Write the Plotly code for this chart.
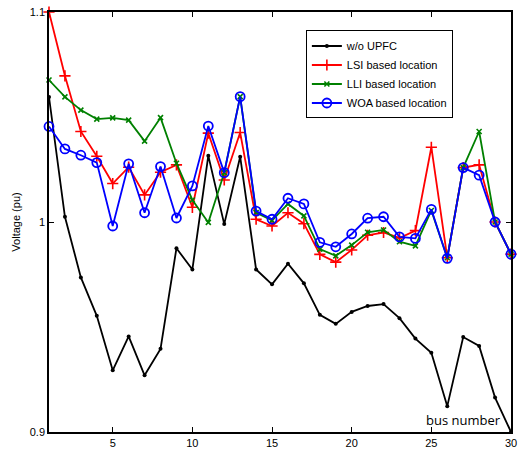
import plotly.graph_objects as go

bus = list(range(1, 31))

wo_upfc = [1.0595, 1.0025, 0.9736, 0.9553, 0.9294, 0.9455, 0.9270, 0.9396, 0.9875, 0.9774,
           1.0316, 0.9990, 1.0311, 0.9774, 0.9703, 0.9801, 0.9708, 0.9558, 0.9515, 0.9572,
           0.9600, 0.9609, 0.9542, 0.9445, 0.9377, 0.9123, 0.9452, 0.9410, 0.9164, 0.9000]

lsi = [1.1000, 1.0696, 1.0431, 1.0313, 1.0183, 1.0261, 1.0129, 1.0237, 1.0272, 1.0070,
       1.0423, 1.0200, 1.0426, 1.0013, 0.9981, 1.0044, 0.9992, 0.9846, 0.9809, 0.9867,
       0.9937, 0.9950, 0.9924, 0.9959, 1.0356, 0.9830, 1.0259, 1.0272, 1.0000, 0.9847]

lli = [1.0676, 1.0596, 1.0533, 1.0490, 1.0496, 1.0485, 1.0385, 1.0497, 1.0280, 1.0105,
       0.9998, 1.0235, 1.0597, 1.0045, 1.0008, 1.0086, 1.0029, 0.9871, 0.9839, 0.9890,
       0.9951, 0.9962, 0.9906, 0.9886, 1.0055, 0.9830, 1.0259, 1.0431, 1.0000, 0.9847]

woa = [1.0455, 1.0348, 1.0318, 1.0283, 0.9981, 1.0277, 1.0044, 1.0264, 1.0019, 1.0172,
       1.0457, 1.0235, 1.0597, 1.0052, 1.0013, 1.0113, 1.0086, 0.9903, 0.9882, 0.9943,
       1.0018, 1.0025, 0.9929, 0.9922, 1.0060, 0.9827, 1.0259, 1.0223, 1.0000, 0.9847]

x_ticks = [5, 10, 15, 20, 25, 30]
y_ticks = [0.9, 1.0, 1.1]
y_tick_labels = ["0.9", "1", "1.1"]

FONT = "Liberation Sans, Arial, sans-serif"

fig = go.Figure()
fig.add_trace(go.Scatter(x=bus, y=wo_upfc, name="w/o UPFC", mode="lines+markers",
                         line=dict(color="black", width=1.8),
                         marker=dict(symbol="circle", size=4, color="black"),
                         cliponaxis=False))
fig.add_trace(go.Scatter(x=bus, y=lsi, name="LSI based location", mode="lines+markers",
                         line=dict(color="#ff0000", width=1.8),
                         marker=dict(symbol="cross-thin", size=8, color="#ff0000",
                                     line=dict(color="#ff0000", width=1.6)),
                         cliponaxis=False))
fig.add_trace(go.Scatter(x=bus, y=lli, name="LLI based location", mode="lines+markers",
                         line=dict(color="#008000", width=1.8),
                         marker=dict(symbol="x-thin", size=5, color="#008000",
                                     line=dict(color="#008000", width=1.6)),
                         cliponaxis=False))
fig.add_trace(go.Scatter(x=bus, y=woa, name="WOA based location", mode="lines+markers",
                         line=dict(color="#0000ff", width=1.8),
                         marker=dict(symbol="circle-open", size=9, color="#0000ff",
                                     line=dict(color="#0000ff", width=1.8)),
                         cliponaxis=False))

fig.update_layout(
    width=518, height=449,
    margin=dict(l=49, r=7, t=12, b=17, pad=0, autoexpand=False),
    paper_bgcolor="white", plot_bgcolor="white",
    font=dict(family=FONT, size=11, color="black"),
    showlegend=True,
    legend=dict(x=0.556, y=0.956, xanchor="left", yanchor="top",
                bordercolor="black", borderwidth=1, bgcolor="white",
                font=dict(family=FONT, size=11, color="black"),
                tracegroupgap=0, itemwidth=30),
    xaxis=dict(range=[1, 30], tickvals=x_ticks, ticks="inside", ticklen=5,
               tickcolor="black", showline=True, linecolor="black", linewidth=1.5,
               mirror="ticks", showgrid=False, zeroline=False, automargin=False,
               tickfont=dict(family=FONT, size=11)),
    yaxis=dict(range=[0.9, 1.1], tickvals=y_ticks, ticktext=y_tick_labels,
               ticks="inside", ticklen=5, tickcolor="black", showline=True,
               linecolor="black", linewidth=1.5, mirror="ticks", showgrid=False,
               zeroline=False, automargin=False, tickfont=dict(family=FONT, size=11),
               title=dict(text="Voltage (pu)", font=dict(family=FONT, size=11), standoff=7)),
    annotations=[dict(text="bus number", x=1.0, y=0.0, xref="paper", yref="paper",
                      xanchor="right", yanchor="bottom", showarrow=False,
                      xshift=-8, yshift=1,
                      font=dict(family="Open Sans, sans-serif", size=13, color="black"))],
)

fig.write_html("out.html")
